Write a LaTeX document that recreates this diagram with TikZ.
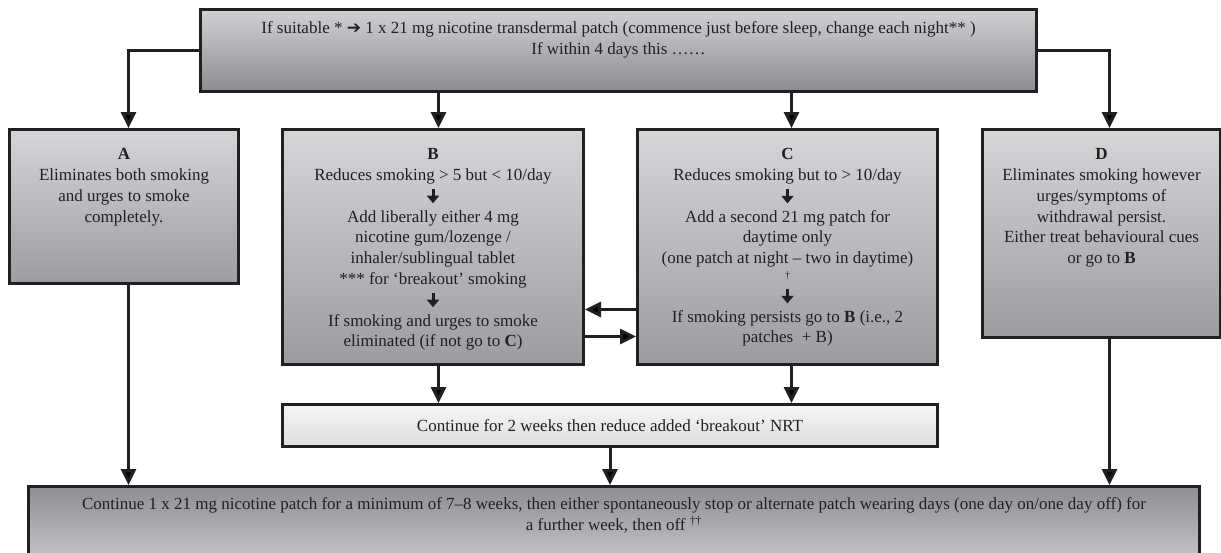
\documentclass[tikz,border=0pt]{standalone}
\usepackage{fontspec}
\setmainfont{Liberation Serif}
\newfontfamily\symfont{DejaVu Sans}
\usetikzlibrary{arrows.meta}
\definecolor{ink}{HTML}{231F20}
\definecolor{boxtop}{HTML}{D5D6D8}
\definecolor{boxbot}{HTML}{9B9CA0}
\definecolor{headtop}{HTML}{D0D1D3}
\definecolor{headbot}{HTML}{8B8C90}
\definecolor{conttop}{HTML}{F6F6F6}
\definecolor{contbot}{HTML}{DDDDDE}
\definecolor{foottop}{HTML}{8D8E92}
\definecolor{footbot}{HTML}{C9CACC}
\newcommand\bxt[4]{\parbox[c][#2][t]{#1}{\centering\vspace*{#3}#4\par}}
\newcommand\dn{\tikz[baseline=0pt,x=1pt,y=1pt]{\draw[draw=ink,fill=ink,line width=3pt,-{Triangle[length=7.5pt,width=12pt]}] (0,12.5) -- (0,-2);}}
\tikzset{
  box/.style={draw=ink, line width=3pt, inner sep=0pt, anchor=north west, text=ink,
    font=\fontsize{17}{20.8}\selectfont},
  conn/.style={draw=ink, line width=3pt, -{Triangle[length=16pt,width=15pt]}},
}
\begin{document}
\begin{tikzpicture}[x=1pt,y=-1pt]
\useasboundingbox (0,0) rectangle (1221,552);
\clip (0,0) rectangle (1221,552);

\node[box, top color=headtop, bottom color=headbot] (T) at (199,8)
  {\bxt{836pt}{82pt}{12pt}{If suitable * {\symfont ➔} 1 x 21 mg nicotine transdermal patch (commence just before sleep, change each night** )\\ If within 4 days this ……}};

\node[box, top color=boxtop, bottom color=boxbot] (A) at (8,128)
  {\bxt{229pt}{154pt}{19pt}{\textbf{A}\\ Eliminates both smoking\\ and urges to smoke\\ completely.}};

\node[box, top color=boxtop, bottom color=boxbot] (B) at (281,128)
  {\bxt{301pt}{235pt}{19pt}{\textbf{B}\\ Reduces smoking > 5 but < 10/day\\ \dn\\ Add liberally either 4 mg\\ nicotine gum/lozenge /\\ inhaler/sublingual tablet\\ \relax*** for ‘breakout’ smoking\\ \dn\\ If smoking and urges to smoke\\ eliminated (if not go to \textbf{C})}};

\node[box, top color=boxtop, bottom color=boxbot] (C) at (636,128)
  {\bxt{300pt}{235pt}{19pt}{\textbf{C}\\ Reduces smoking but to > 10/day\\ \dn\\ Add a second 21 mg patch for\\ daytime only\\ (one patch at night – two in daytime)\\[-6pt] {\fontsize{10}{12}\selectfont †}\\[2pt] \dn\\ If smoking persists go to \textbf{B} (i.e., 2\\ patches~ + B)}};

\node[box, top color=boxtop, bottom color=boxbot] (D) at (981,128)
  {\bxt{238pt}{208pt}{19pt}{\textbf{D}\\ Eliminates smoking however\\ urges/symptoms of\\ withdrawal persist.\\ Either treat behavioural cues\\ or go to \textbf{B}}};

\node[box, top color=conttop, bottom color=contbot, minimum width=655pt, minimum height=42pt] (G) at (281,403)
  {Continue for 2 weeks then reduce added ‘breakout’ NRT};

\node[box, top color=foottop, bottom color=footbot] (F) at (27,485)
  {\bxt{1171pt}{80pt}{11.5pt}{Continue 1 x 21 mg nicotine patch for a minimum of 7–8 weeks, then either spontaneously stop or alternate patch wearing days (one day on/one day off) for\\ a further week, then off \textsuperscript{††}}};

% connectors from top box
\draw[conn] (T.west) -| ([xshift=4.5pt]A.north);
\draw[conn] (T.east) -| ([xshift=8pt]D.north);
\draw[conn] ([xshift=5.5pt]B.north |- T.south) -- ([xshift=5.5pt]B.north);
\draw[conn] ([xshift=4pt]C.north |- T.south) -- ([xshift=4pt]C.north);
% between B and C
\draw[conn] ([yshift=-62.5pt]C.west) -- ([yshift=-62.5pt]C.west -| B.east);
\draw[conn] ([yshift=-89.5pt]B.east) -- ([yshift=-89.5pt]B.east -| C.west);
% to continue box
\draw[conn] ([xshift=5.5pt]B.south) -- ([xshift=5.5pt]B.south |- G.north);
\draw[conn] ([xshift=4pt]C.south) -- ([xshift=4pt]C.south |- G.north);
% to final box
\draw[conn] (G.south) -- (G.south |- F.north);
\draw[conn] ([xshift=4.5pt]A.south) -- ([xshift=4.5pt]A.south |- F.north);
\draw[conn] ([xshift=8pt]D.south) -- ([xshift=8pt]D.south |- F.north);
\end{tikzpicture}
\end{document}
